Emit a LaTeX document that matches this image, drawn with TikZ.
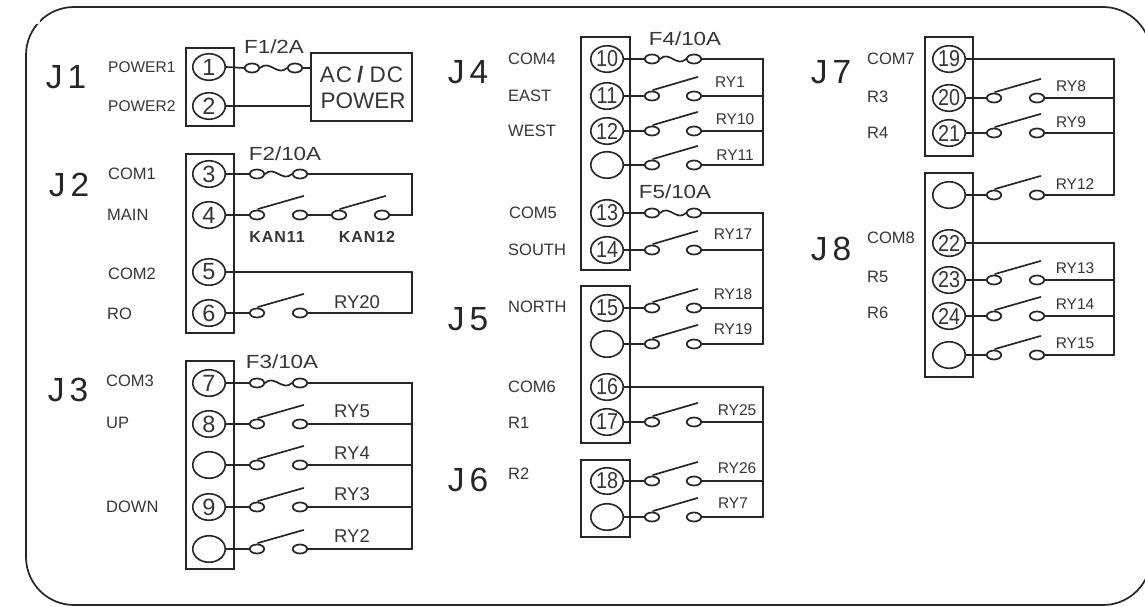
\documentclass[tikz,border=0pt]{standalone}
\usepackage{fontspec}
\setmainfont{Liberation Sans}
\newfontfamily\stretchfont[FakeStretch=1.18]{Liberation Sans}
\newfontfamily\narrowfont[FakeStretch=0.86]{Liberation Sans}
\newfontfamily\kanfont[LetterSpace=6]{Liberation Sans}
\newfontfamily\psufont[LetterSpace=5]{Liberation Sans}
\usetikzlibrary{shapes.geometric,calc}
\definecolor{ink}{HTML}{262626}
\definecolor{txt}{HTML}{363636}
\tikzset{
  wire/.style={draw=ink,line width=1.7pt,line cap=round,line join=miter},
  framebox/.style={draw=ink,line width=1.7pt},
  jbox/.style={rectangle,draw=ink,line width=2pt,inner sep=0pt},
  term/.style={ellipse,draw=ink,line width=1.6pt,minimum width=32.5pt,minimum height=26.5pt,inner sep=0pt,text=txt,font=\fontsize{23.5}{25}\selectfont},
  termwide/.style={term,font=\narrowfont\fontsize{23}{25}\selectfont},
  contact/.style={ellipse,draw=ink,line width=1.7pt,minimum width=14.5pt,minimum height=9pt,inner sep=0pt},
  sidelab/.style={anchor=west,inner sep=0pt,text=txt,font=\fontsize{16.5}{18}\selectfont},
  powerlab/.style={anchor=west,inner sep=0pt,text=txt,font=\fontsize{15.5}{18}\selectfont},
  bigj/.style={inner sep=0pt,text=ink,font=\fontsize{33.5}{36}\selectfont},
  rylab/.style={inner sep=0pt,text=txt,font=\fontsize{15.5}{18}\selectfont},
  rylabbig/.style={inner sep=0pt,text=txt,font=\fontsize{18.5}{20}\selectfont},
  fuselab/.style={inner sep=0pt,text=txt,font=\stretchfont\fontsize{19}{21}\selectfont},
  kanlab/.style={inner sep=0pt,text=txt,font=\kanfont\bfseries\fontsize{16}{18}\selectfont},
  psubox/.style={rectangle,draw=ink,line width=2pt,inner sep=0pt,minimum width=101pt,minimum height=68pt,align=center,text=txt,font=\fontsize{22.5}{26}\selectfont},
}
\newcommand{\contacts}[5]{%
  \node[contact] (#1-a) at (#3,#5) {};
  \node[contact] (#1-b) at (#4,#5) {};
  \draw[wire] (#2.east) -- (#1-a.west);
}
% name, term, xL, xR, y, bus, label, lx, ly
\newcommand{\relay}[9]{%
  \contacts{#1}{#2}{#3}{#4}{#5}
  \coordinate (#1-tip) at ($(#1-b)+(3.5,-19)$);
  \coordinate (#1-root) at ($(#1-a)+(1,-6)$);
  \draw[wire] (#1-root) -- (#1-tip);
  \draw[wire] (#1-b.east) -- (#1-b.east -| #6);
  \node[\rystyle] (#1-lab) at (#8,#9) {#7};
}
\newcommand{\rystyle}{rylab}
% name, term, xL, xR, y, label, lx, ly
\newcommand{\fuse}[8]{%
  \contacts{#1}{#2}{#3}{#4}{#5}
  \draw[wire] (#1-a.east) .. controls +(9,-9) and +(-9,9) .. (#1-b.west);
  \node[fuselab] (#1-lab) at (#7,#8) {#6};
}
\newcommand{\term}[4]{\node[term] (#1) at (#2,#3) {#4};}
\newcommand{\termw}[4]{\node[termwide] (#1) at (#2,#3) {#4};}
\newcommand{\side}[3]{\node[sidelab] (lab-#3) at (#1,#2) {#3};}
\begin{document}
\begin{tikzpicture}[x=1pt,y=-1pt]
\useasboundingbox (0,0) rectangle (1145,607);
\fill[white] (0,0) rectangle (1145,607);
% outer frame
\draw[framebox,rounded corners=48pt] (26,7) rectangle (1151,605);
\fill[white] (37.5,21.5) circle (2.6pt);
% J1
\node[jbox,minimum width=48pt,minimum height=78pt] (j1box) at (210,87) {};
\term{t1}{209}{67}{1}
\term{t2}{209}{106}{2}
\node[psubox] (psu) at (361.5,87) {{\psufont AC\kern5pt\textbf{/}\kern5pt DC}\\\kern3pt POWER};
\fuse{f1}{t1}{252}{295}{68}{F1/2A}{274}{47}
\draw[wire] (f1-b.east) -- (f1-b.east -| psu.west);
\draw[wire] (t2.east) -- (t2.east -| psu.west);
\node[bigj] (J1) at (66,77) {J\kern5pt 1};
\node[powerlab] (lab-POWER1) at (108,67) {POWER1};
\node[powerlab] (lab-POWER2) at (108,106) {POWER2};
% J2
\node[jbox,minimum width=48pt,minimum height=179pt] (j2box) at (210,243.5) {};
\term{t3}{209}{174}{3}
\term{t4}{209}{215}{4}
\term{t5}{209}{272}{5}
\term{t6}{209}{313}{6}
\coordinate (bus2a) at (412,174);
\coordinate (bus2b) at (412,272);
\fuse{f2}{t3}{257}{300}{174}{F2/10A}{285}{154}
\contacts{k1}{t4}{257}{300}{215}
\coordinate (k1-root) at ($(k1-a)+(1,-6)$);
\coordinate (k1-tip) at ($(k1-b)+(3.5,-19)$);
\draw[wire] (k1-root) -- (k1-tip);
\node[contact] (k2-a) at (339,215) {};
\node[contact] (k2-b) at (382,215) {};
\coordinate (k2-root) at ($(k2-a)+(1,-6)$);
\coordinate (k2-tip) at ($(k2-b)+(3.5,-19)$);
\draw[wire] (k2-root) -- (k2-tip);
\draw[wire] (k1-b.east) -- (k2-a.west);
\draw[wire] (f2-b.east) -- (f2-b.east -| bus2a) -- (k2-b.east -| bus2a) -- (k2-b.east);
\node[kanlab] (k1-lab) at (277,237) {KAN11};
\node[kanlab] (k2-lab) at (367,237) {KAN12};
\draw[wire] (t5.east) -- (t5.east -| bus2b);
\renewcommand{\rystyle}{rylabbig}
\relay{r20}{t6}{257}{300}{313}{bus2b}{RY20}{357}{302}
\draw[wire] (t5.east -| bus2b) -- (r20-b.east -| bus2b);
\node[bigj] (J2) at (69,185) {J\kern5pt 2};
\side{108}{174}{COM1}
\side{107}{215}{MAIN}
\side{108}{274}{COM2}
\side{107}{314}{RO}
% J3
\node[jbox,minimum width=48pt,minimum height=208pt] (j3box) at (210,465) {};
\term{t7}{209}{383}{7}
\term{t8}{209}{424}{8}
\term{tb1}{209}{465}{}
\term{t9}{209}{507}{9}
\term{tb2}{209}{549}{}
\coordinate (bus3) at (412,383);
\fuse{f3}{t7}{257}{300}{383}{F3/10A}{282}{362}
\relay{r5}{t8}{257}{300}{424}{bus3}{RY5}{352}{411}
\relay{r4}{tb1}{257}{300}{465}{bus3}{RY4}{352}{453}
\relay{r3}{t9}{257}{300}{507}{bus3}{RY3}{352}{494}
\relay{r2}{tb2}{257}{300}{549}{bus3}{RY2}{352}{536}
\draw[wire] (f3-b.east) -- (f3-b.east -| bus3) -- (r2-b.east -| bus3);
\node[bigj] (J3) at (68,390) {J\kern5pt 3};
\side{106}{381}{COM3}
\side{106}{423}{UP}
\side{106}{507}{DOWN}
% J4
\renewcommand{\rystyle}{rylab}
\node[jbox,minimum width=49pt,minimum height=233pt] (j4box) at (605.5,153.5) {};
\termw{t10}{607}{59}{10}
\termw{t11}{607}{96}{11}
\termw{t12}{607}{131}{12}
\term{tb3}{607}{165}{}
\termw{t13}{607}{213}{13}
\termw{t14}{607}{250}{14}
\coordinate (bus4) at (763,59);
\fuse{f4}{t10}{652}{694}{59}{F4/10A}{685}{39}
\relay{r1}{t11}{652}{694}{96}{bus4}{RY1}{730}{82}
\relay{r10}{t12}{652}{694}{131}{bus4}{RY10}{735}{119}
\relay{r11}{tb3}{652}{694}{165}{bus4}{RY11}{735}{155}
\draw[wire] (f4-b.east) -- (f4-b.east -| bus4) -- (r11-b.east -| bus4);
\fuse{f5}{t13}{652}{694}{213}{F5/10A}{675}{192}
\relay{r17}{t14}{652}{694}{250}{bus4}{RY17}{733}{234}
\node[bigj] (J4) at (468,72) {J\kern5pt 4};
\side{508}{59}{COM4}
\side{508}{96}{EAST}
\side{508}{131}{WEST}
\side{509}{213}{COM5}
\side{508}{250}{SOUTH}
% J5
\node[jbox,minimum width=49pt,minimum height=157pt] (j5box) at (605.5,364.5) {};
\termw{t15}{607}{308}{15}
\term{tb4}{607}{344}{}
\termw{t16}{607}{387}{16}
\termw{t17}{607}{422}{17}
\relay{r18}{t15}{652}{694}{308}{bus4}{RY18}{733}{294}
\relay{r19}{tb4}{652}{694}{344}{bus4}{RY19}{733}{329}
\draw[wire] (f5-b.east) -- (f5-b.east -| bus4) -- (r19-b.east -| bus4);
\relay{r25}{t17}{652}{694}{422}{bus4}{RY25}{737}{410}
\node[bigj] (J5) at (468,319) {J\kern5pt 5};
\side{508}{307}{NORTH}
\side{508}{387}{COM6}
\side{508}{423}{R1}
% J6
\node[jbox,minimum width=49pt,minimum height=77pt] (j6box) at (605.5,498.5) {};
\termw{t18}{607}{481}{18}
\term{tb5}{607}{517}{}
\relay{r26}{t18}{652}{694}{481}{bus4}{RY26}{737}{468}
\relay{r7}{tb5}{652}{694}{517}{bus4}{RY7}{733}{503}
\draw[wire] (t16.east) -- (t16.east -| bus4) -- (r7-b.east -| bus4);
\node[bigj] (J6) at (468,480) {J\kern5pt 6};
\side{508}{474}{R2}
% J7
\node[jbox,minimum width=48pt,minimum height=119pt] (j7box) at (949,96.5) {};
\termw{t19}{949}{59}{19}
\termw{t20}{949}{98}{20}
\termw{t21}{949}{133}{21}
\coordinate (bus7) at (1114,59);
\relay{r8}{t20}{994}{1037}{98}{bus7}{RY8}{1071}{86}
\relay{r9}{t21}{994}{1037}{133}{bus7}{RY9}{1071}{122}
\node[bigj] (J7) at (831,72) {J\kern5pt 7};
\side{867}{59}{COM7}
\side{867}{97}{R3}
\side{867}{133}{R4}
% J8
\node[jbox,minimum width=48pt,minimum height=204pt] (j8box) at (949,275) {};
\term{tb6}{949}{195}{}
\termw{t22}{949}{243}{22}
\termw{t23}{949}{280}{23}
\termw{t24}{949}{316}{24}
\term{tb7}{949}{355}{}
\relay{r12}{tb6}{994}{1037}{195}{bus7}{RY12}{1075}{184}
\draw[wire] (t19.east) -- (t19.east -| bus7) -- (r12-b.east -| bus7);
\relay{r13}{t23}{994}{1037}{280}{bus7}{RY13}{1075}{268}
\relay{r14}{t24}{994}{1037}{316}{bus7}{RY14}{1075}{304}
\relay{r15}{tb7}{994}{1037}{355}{bus7}{RY15}{1075}{343}
\draw[wire] (t22.east) -- (t22.east -| bus7) -- (r15-b.east -| bus7);
\node[bigj] (J8) at (831,249) {J\kern5pt 8};
\side{867}{238}{COM8}
\side{867}{277}{R5}
\side{867}{313}{R6}
\end{tikzpicture}
\end{document}
